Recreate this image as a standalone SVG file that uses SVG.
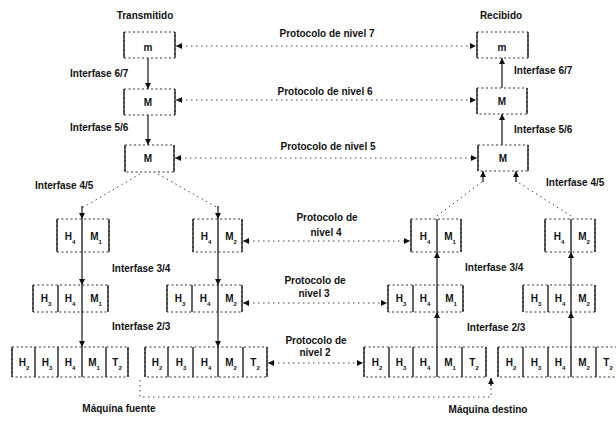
<svg xmlns="http://www.w3.org/2000/svg" width="616" height="421" viewBox="0 0 616 421">
  <style>
    .bg { fill: #ffffff; }
    .lbl { font-family: "Liberation Sans", Arial, sans-serif; font-size: 10px; font-weight: bold; fill: #111; }
    .mid { text-anchor: middle; }
    .cell { font-family: "Liberation Sans", Arial, sans-serif; font-size: 10px; font-weight: bold; fill: #111; text-anchor: middle; }
    .sub { font-size: 6px; }
    .frame { fill: none; stroke: #333; stroke-width: 1; stroke-dasharray: 2 2.5; }
    .side { fill: none; stroke: #111; stroke-width: 1.3; }
    .iface { fill: none; stroke: #111; stroke-width: 1.2; }
    .proto { fill: none; stroke: #444; stroke-width: 1; stroke-dasharray: 1.5 3.5; }
  </style>
  <defs>
    <marker id="ah" viewBox="0 0 10 10" refX="10" refY="5" markerWidth="6" markerHeight="6" markerUnits="userSpaceOnUse" orient="auto-start-reverse">
      <path d="M0,0 L10,5 L0,10 z" fill="#111"/>
    </marker>
  </defs>
  <rect class="bg" x="0" y="0" width="616" height="421"/>

  <!-- column titles -->
  <text class="lbl mid" x="145" y="19">Transmitido</text>
  <text class="lbl mid" x="501" y="19">Recibido</text>

  <!-- sending side: levels 7..5 -->
  <g id="tx-l7">
    <rect class="frame" x="124" y="32" width="51" height="26"/>
    <path class="side" d="M124 32V58M175 32V58"/>
    <text class="cell" x="148" y="51">m</text>
  </g>
  <g id="tx-l6">
    <rect class="frame" x="124" y="89" width="51" height="26"/>
    <path class="side" d="M124 89V115M175 89V115"/>
    <text class="cell" x="148" y="106">M</text>
  </g>
  <g id="tx-l5">
    <rect class="frame" x="125" y="145" width="49" height="27"/>
    <path class="side" d="M125 145V172M174 145V172"/>
    <text class="cell" x="148" y="162">M</text>
  </g>

  <!-- receiving side: levels 7..5 -->
  <g id="rx-l7">
    <rect class="frame" x="477" y="32" width="51" height="26"/>
    <path class="side" d="M477 32V58M528 32V58"/>
    <text class="cell" x="502" y="51">m</text>
  </g>
  <g id="rx-l6">
    <rect class="frame" x="477" y="88" width="50" height="26"/>
    <path class="side" d="M477 88V114M527 88V114"/>
    <text class="cell" x="502" y="105">M</text>
  </g>
  <g id="rx-l5">
    <rect class="frame" x="478" y="145" width="50" height="26"/>
    <path class="side" d="M478 145V171M528 145V171"/>
    <text class="cell" x="503" y="162">M</text>
  </g>

  <!-- level 4 -->
  <g id="tx-l4a">
    <rect class="frame" x="57" y="219" width="52" height="33"/>
    <path class="side" d="M57 219V252M82 219V252M109 219V252"/>
    <text class="cell" x="70" y="240">H<tspan class="sub" dy="4">4</tspan></text>
    <text class="cell" x="96" y="240">M<tspan class="sub" dy="4">1</tspan></text>
  </g>
  <g id="tx-l4b">
    <rect class="frame" x="193" y="219" width="49" height="33"/>
    <path class="side" d="M193 219V252M218 219V252M242 219V252"/>
    <text class="cell" x="206" y="240">H<tspan class="sub" dy="4">4</tspan></text>
    <text class="cell" x="231" y="240">M<tspan class="sub" dy="4">2</tspan></text>
  </g>
  <g id="rx-l4a">
    <rect class="frame" x="411" y="219" width="50" height="33"/>
    <path class="side" d="M411 219V252M437 219V252M461 219V252"/>
    <text class="cell" x="425" y="240">H<tspan class="sub" dy="4">4</tspan></text>
    <text class="cell" x="450" y="240">M<tspan class="sub" dy="4">1</tspan></text>
  </g>
  <g id="rx-l4b">
    <rect class="frame" x="545" y="219" width="50" height="33"/>
    <path class="side" d="M545 219V252M571 219V252M595 219V252"/>
    <text class="cell" x="559" y="240">H<tspan class="sub" dy="4">4</tspan></text>
    <text class="cell" x="584" y="240">M<tspan class="sub" dy="4">2</tspan></text>
  </g>

  <!-- level 3 -->
  <g id="tx-l3a">
    <rect class="frame" x="33" y="285" width="75" height="27"/>
    <path class="side" d="M33 285V312M58 285V312M82 285V312M108 285V312"/>
    <text class="cell" x="46" y="302">H<tspan class="sub" dy="4">3</tspan></text>
    <text class="cell" x="70" y="302">H<tspan class="sub" dy="4">4</tspan></text>
    <text class="cell" x="96" y="302">M<tspan class="sub" dy="4">1</tspan></text>
  </g>
  <g id="tx-l3b">
    <rect class="frame" x="167" y="285" width="75" height="27"/>
    <path class="side" d="M167 285V312M192 285V312M218 285V312M242 285V312"/>
    <text class="cell" x="180" y="302">H<tspan class="sub" dy="4">3</tspan></text>
    <text class="cell" x="205" y="302">H<tspan class="sub" dy="4">4</tspan></text>
    <text class="cell" x="231" y="302">M<tspan class="sub" dy="4">2</tspan></text>
  </g>
  <g id="rx-l3a">
    <rect class="frame" x="388" y="285" width="75" height="27"/>
    <path class="side" d="M388 285V312M413 285V312M437 285V312M463 285V312"/>
    <text class="cell" x="401" y="302">H<tspan class="sub" dy="4">3</tspan></text>
    <text class="cell" x="425" y="302">H<tspan class="sub" dy="4">4</tspan></text>
    <text class="cell" x="451" y="302">M<tspan class="sub" dy="4">1</tspan></text>
  </g>
  <g id="rx-l3b">
    <rect class="frame" x="523" y="285" width="72" height="27"/>
    <path class="side" d="M523 285V312M548 285V312M571 285V312M595 285V312"/>
    <text class="cell" x="536" y="302">H<tspan class="sub" dy="4">3</tspan></text>
    <text class="cell" x="560" y="302">H<tspan class="sub" dy="4">4</tspan></text>
    <text class="cell" x="584" y="302">M<tspan class="sub" dy="4">2</tspan></text>
  </g>

  <!-- level 2 -->
  <g id="tx-l2a">
    <rect class="frame" x="12" y="347" width="116" height="30"/>
    <path class="side" d="M12 347V377M35 347V377M58 347V377M82 347V377M106 347V377M128 347V377"/>
    <text class="cell" x="24" y="366">H<tspan class="sub" dy="4">2</tspan></text>
    <text class="cell" x="47" y="366">H<tspan class="sub" dy="4">3</tspan></text>
    <text class="cell" x="70" y="366">H<tspan class="sub" dy="4">4</tspan></text>
    <text class="cell" x="94" y="366">M<tspan class="sub" dy="4">1</tspan></text>
    <text class="cell" x="117" y="366">T<tspan class="sub" dy="4">2</tspan></text>
  </g>
  <g id="tx-l2b">
    <rect class="frame" x="145" y="347" width="122" height="30"/>
    <path class="side" d="M145 347V377M168 347V377M193 347V377M218 347V377M243 347V377M267 347V377"/>
    <text class="cell" x="157" y="366">H<tspan class="sub" dy="4">2</tspan></text>
    <text class="cell" x="181" y="366">H<tspan class="sub" dy="4">3</tspan></text>
    <text class="cell" x="206" y="366">H<tspan class="sub" dy="4">4</tspan></text>
    <text class="cell" x="231" y="366">M<tspan class="sub" dy="4">2</tspan></text>
    <text class="cell" x="255" y="366">T<tspan class="sub" dy="4">2</tspan></text>
  </g>
  <g id="rx-l2a">
    <rect class="frame" x="364" y="347" width="122" height="30"/>
    <path class="side" d="M364 347V377M389 347V377M413 347V377M437 347V377M462 347V377M486 347V377"/>
    <text class="cell" x="377" y="366">H<tspan class="sub" dy="4">2</tspan></text>
    <text class="cell" x="401" y="366">H<tspan class="sub" dy="4">3</tspan></text>
    <text class="cell" x="425" y="366">H<tspan class="sub" dy="4">4</tspan></text>
    <text class="cell" x="450" y="366">M<tspan class="sub" dy="4">1</tspan></text>
    <text class="cell" x="474" y="366">T<tspan class="sub" dy="4">2</tspan></text>
  </g>
  <g id="rx-l2b">
    <rect class="frame" x="498" y="347" width="122" height="30"/>
    <path class="side" d="M498 347V377M523 347V377M548 347V377M571 347V377M596 347V377"/>
    <text class="cell" x="511" y="366">H<tspan class="sub" dy="4">2</tspan></text>
    <text class="cell" x="536" y="366">H<tspan class="sub" dy="4">3</tspan></text>
    <text class="cell" x="560" y="366">H<tspan class="sub" dy="4">4</tspan></text>
    <text class="cell" x="584" y="366">M<tspan class="sub" dy="4">2</tspan></text>
    <text class="cell" x="608" y="366">T<tspan class="sub" dy="4">2</tspan></text>
  </g>

  <!-- connectors -->
  <g id="connectors">
    <!-- peer protocols -->
    <line class="proto" x1="176" y1="46" x2="476" y2="46" marker-start="url(#ah)" marker-end="url(#ah)"/>
    <line class="proto" x1="176" y1="100" x2="476" y2="100" marker-start="url(#ah)" marker-end="url(#ah)"/>
    <line class="proto" x1="175" y1="158" x2="477" y2="158" marker-start="url(#ah)" marker-end="url(#ah)"/>
    <line class="proto" x1="243" y1="241" x2="410" y2="241" marker-start="url(#ah)" marker-end="url(#ah)"/>
    <line class="proto" x1="243" y1="303" x2="387" y2="303" marker-start="url(#ah)" marker-end="url(#ah)"/>
    <line class="proto" x1="268" y1="363" x2="363" y2="363" marker-start="url(#ah)" marker-end="url(#ah)"/>

    <!-- sending side interfaces -->
    <line class="iface" x1="148" y1="58" x2="148" y2="89" marker-end="url(#ah)"/>
    <line class="iface" x1="148" y1="115" x2="148" y2="145" marker-end="url(#ah)"/>
    <path class="proto" d="M140 174L82 208"/>
    <path class="proto" d="M158 174L218 208"/>
    <line class="iface" x1="82" y1="206" x2="82" y2="219" marker-end="url(#ah)"/>
    <line class="iface" x1="218" y1="206" x2="218" y2="219" marker-end="url(#ah)"/>
    <line class="iface" x1="82" y1="252" x2="82" y2="285" marker-end="url(#ah)"/>
    <line class="iface" x1="218" y1="252" x2="218" y2="285" marker-end="url(#ah)"/>
    <line class="iface" x1="82" y1="312" x2="82" y2="347" marker-end="url(#ah)"/>
    <line class="iface" x1="218" y1="312" x2="218" y2="347" marker-end="url(#ah)"/>

    <!-- receiving side interfaces -->
    <line class="iface" x1="502" y1="88" x2="502" y2="58" marker-end="url(#ah)"/>
    <line class="iface" x1="502" y1="145" x2="502" y2="114" marker-end="url(#ah)"/>
    <path class="proto" d="M437 216L483 181"/>
    <path class="proto" d="M571 216L516 181"/>
    <line class="iface" x1="483" y1="182" x2="483" y2="171" marker-end="url(#ah)"/>
    <line class="iface" x1="516" y1="182" x2="516" y2="171" marker-end="url(#ah)"/>
    <line class="iface" x1="437" y1="285" x2="437" y2="252" marker-end="url(#ah)"/>
    <line class="iface" x1="571" y1="285" x2="571" y2="252" marker-end="url(#ah)"/>
    <line class="iface" x1="437" y1="347" x2="437" y2="312" marker-end="url(#ah)"/>
    <line class="iface" x1="571" y1="347" x2="571" y2="312" marker-end="url(#ah)"/>

    <!-- physical medium between machines -->
    <path class="proto" d="M140 380V397H491V384"/>
    <line class="iface" x1="491" y1="386" x2="491" y2="378" marker-end="url(#ah)"/>
  </g>

  <!-- protocol labels -->
  <text class="lbl mid" x="327" y="37">Protocolo de nivel 7</text>
  <text class="lbl mid" x="325" y="95">Protocolo de nivel 6</text>
  <text class="lbl mid" x="328" y="150">Protocolo de nivel 5</text>
  <text class="lbl mid" x="327" y="221">Protocolo de</text>
  <text class="lbl mid" x="326" y="236">nivel 4</text>
  <text class="lbl mid" x="315" y="284">Protocolo de</text>
  <text class="lbl mid" x="314" y="297">nivel 3</text>
  <text class="lbl mid" x="316" y="344">Protocolo de</text>
  <text class="lbl mid" x="315" y="356">nivel 2</text>

  <!-- interface labels -->
  <text class="lbl" x="70" y="77">Interfase 6/7</text>
  <text class="lbl" x="70" y="131">Interfase 5/6</text>
  <text class="lbl" x="35" y="189">Interfase 4/5</text>
  <text class="lbl" x="112" y="272">Interfase 3/4</text>
  <text class="lbl" x="112" y="330">Interfase 2/3</text>
  <text class="lbl" x="514" y="74">Interfase 6/7</text>
  <text class="lbl" x="514" y="133">Interfase 5/6</text>
  <text class="lbl" x="546" y="186">Interfase 4/5</text>
  <text class="lbl" x="465" y="271">Interfase 3/4</text>
  <text class="lbl" x="467" y="331">Interfase 2/3</text>

  <!-- machine labels -->
  <text class="lbl mid" x="119" y="412">Máquina fuente</text>
  <text class="lbl mid" x="488" y="413">Máquina destino</text>
</svg>
